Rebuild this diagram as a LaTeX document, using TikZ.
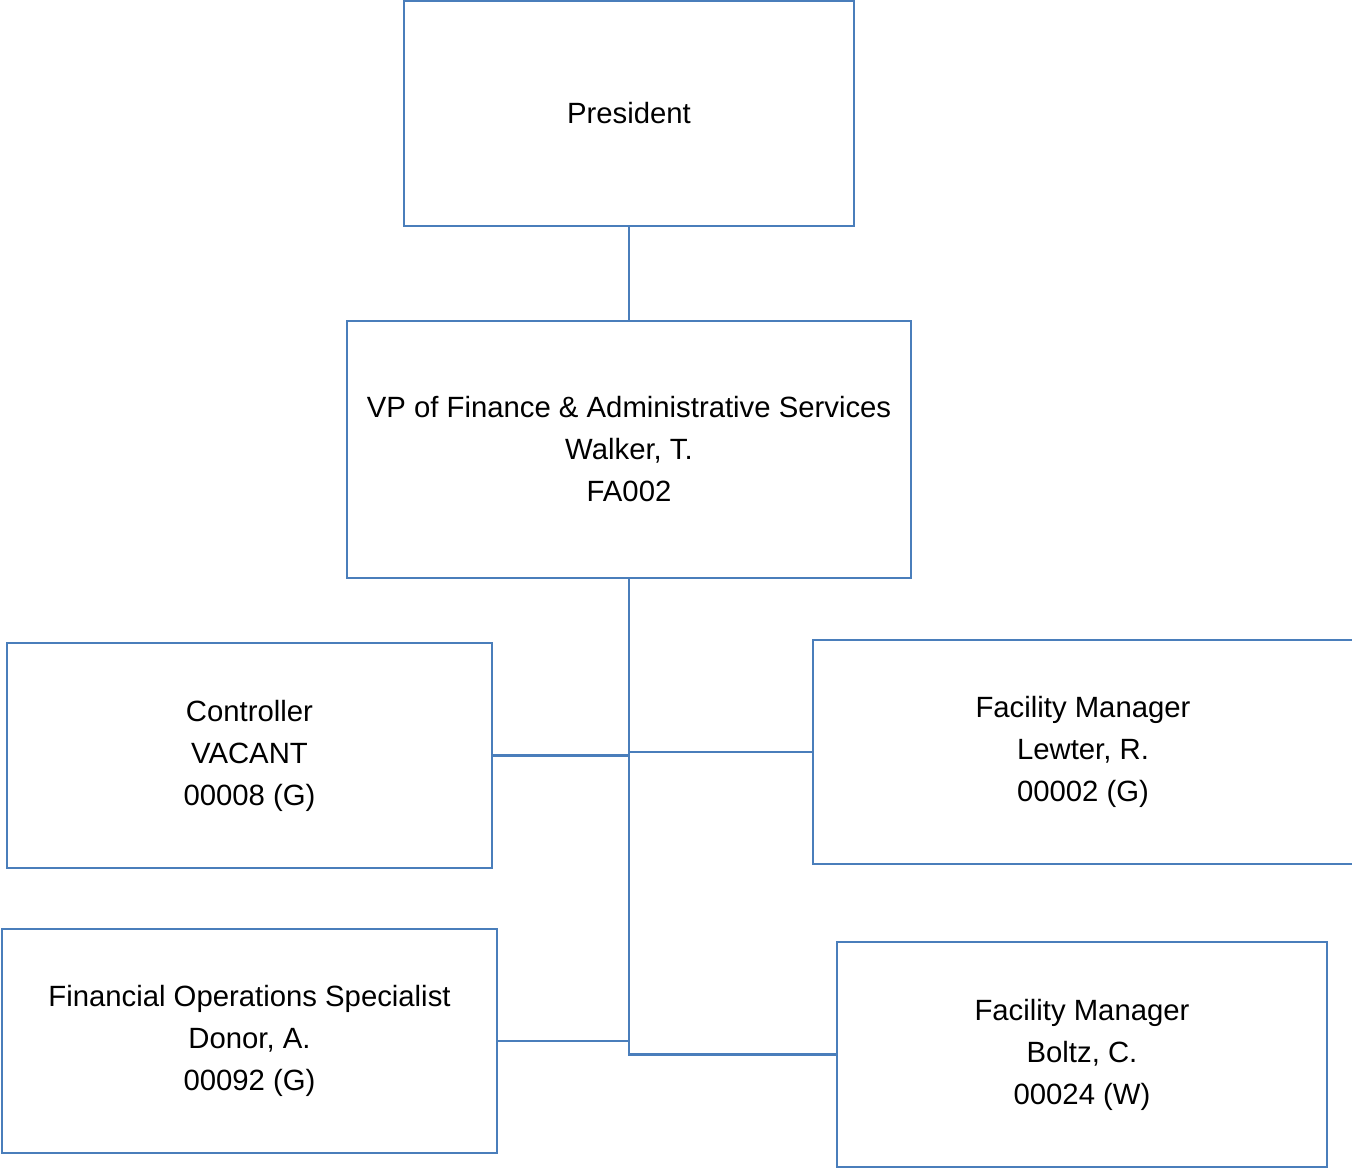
\documentclass[tikz,border=0pt]{standalone}
\usepackage{fontspec}
\setmainfont{Liberation Sans}
\definecolor{boxblue}{RGB}{74,126,187}
\begin{document}
\begin{tikzpicture}[x=0.5pt,y=-0.5pt,
  box/.style={draw=boxblue, line width=1.2pt, rectangle, align=center, inner sep=0pt,
    font=\fontsize{14.65}{21}\selectfont},
  conn/.style={draw=boxblue, line width=1.2pt}]
\useasboundingbox (0,0) rectangle (1352,1169);
\node[box, minimum width=225pt, minimum height=112.5pt] (pres) at (629,113.5) {President};
\node[box, minimum width=282pt, minimum height=128.5pt] (vp) at (629,449.5)
  {VP of Finance \& Administrative Services\\Walker, T.\\FA002};
\node[box, minimum width=242.5pt, minimum height=112.5pt] (ctrl) at (249.5,755.5)
  {Controller\\VACANT\\00008 (G)};
\node[box, minimum width=270pt, minimum height=112pt] (lewter) at (1083,752)
  {Facility Manager\\Lewter, R.\\00002 (G)};
\node[box, minimum width=247.5pt, minimum height=112pt] (finops) at (249.5,1041)
  {Financial Operations Specialist\\Donor, A.\\00092 (G)};
\node[box, minimum width=245pt, minimum height=112.5pt] (boltz) at (1082,1054.5)
  {Facility Manager\\Boltz, C.\\00024 (W)};
\draw[conn] (pres.south) -- (vp.north);
\draw[conn] (vp.south) -- (vp.south |- boltz.west) -- (boltz.west);
\draw[conn] (ctrl.east) -- (ctrl.east -| vp.south);
\draw[conn] (lewter.west) -- (lewter.west -| vp.south);
\draw[conn] (finops.east) -- (finops.east -| vp.south);
\end{tikzpicture}
\end{document}
